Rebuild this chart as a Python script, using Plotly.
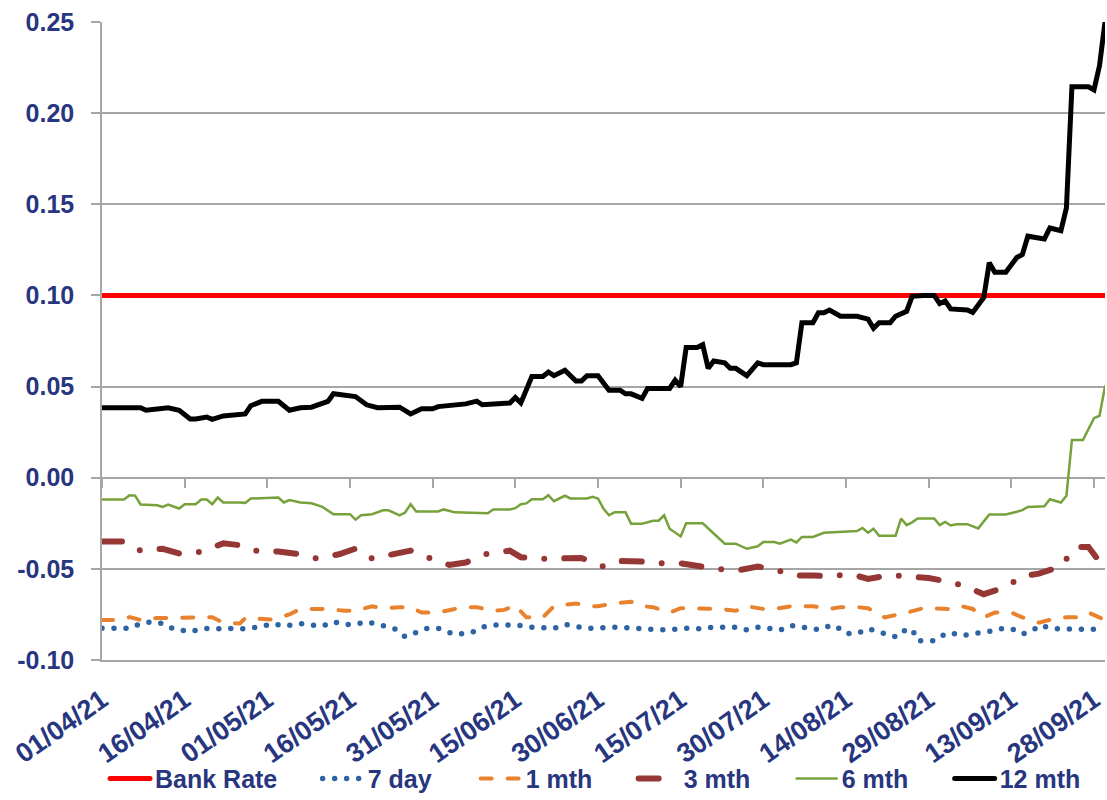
import plotly.graph_objects as go

# ---------------- data ----------------
bank_dates = ["2021-04-01", "2021-09-30"]
bank_values = [0.10, 0.10]

d7_dates = ["2021-04-01", "2021-04-06", "2021-04-08", "2021-04-10", "2021-04-12", "2021-04-14",
            "2021-04-17", "2021-04-19", "2021-04-21", "2021-04-23", "2021-04-25", "2021-04-27",
            "2021-04-30", "2021-05-02", "2021-05-04", "2021-05-07", "2021-05-11", "2021-05-13",
            "2021-05-15", "2021-05-17", "2021-05-19", "2021-05-22", "2021-05-24", "2021-05-26",
            "2021-05-28", "2021-05-30", "2021-06-01", "2021-06-03", "2021-06-04", "2021-06-07",
            "2021-06-09", "2021-06-11", "2021-06-15", "2021-06-18", "2021-06-20", "2021-06-22",
            "2021-06-24", "2021-06-26", "2021-06-28", "2021-07-03", "2021-07-07", "2021-07-10",
            "2021-07-12", "2021-07-16", "2021-07-18", "2021-07-21", "2021-07-25", "2021-07-27",
            "2021-07-29", "2021-07-31", "2021-08-02", "2021-08-04", "2021-08-07", "2021-08-09",
            "2021-08-10", "2021-08-12", "2021-08-14", "2021-08-16", "2021-08-18", "2021-08-21",
            "2021-08-23", "2021-08-24", "2021-08-26", "2021-08-27", "2021-08-30", "2021-09-01",
            "2021-09-02", "2021-09-04", "2021-09-07", "2021-09-09", "2021-09-11", "2021-09-13",
            "2021-09-15", "2021-09-17", "2021-09-18", "2021-09-21", "2021-09-24", "2021-09-29",
            "2021-09-30"]
d7_values = [-0.0826, -0.0826, -0.0800, -0.0790, -0.0800, -0.0830,
             -0.0845, -0.0830, -0.0825, -0.0830, -0.0826, -0.0830,
             -0.0815, -0.0800, -0.0815, -0.0800, -0.0815, -0.0790,
             -0.0805, -0.0805, -0.0790, -0.0815, -0.0826, -0.0872,
             -0.0850, -0.0826, -0.0826, -0.0850, -0.0860, -0.0850,
             -0.0820, -0.0808, -0.0808, -0.0820, -0.0820, -0.0826,
             -0.0805, -0.0815, -0.0826, -0.0820, -0.0826, -0.0830,
             -0.0835, -0.0826, -0.0830, -0.0820, -0.0820, -0.0835,
             -0.0820, -0.0826, -0.0837, -0.0810, -0.0820, -0.0833,
             -0.0820, -0.0810, -0.0855, -0.0855, -0.0828, -0.0855,
             -0.0873, -0.0843, -0.0830, -0.0895, -0.0895, -0.0857,
             -0.0850, -0.0866, -0.0855, -0.0843, -0.0828, -0.0828,
             -0.0858, -0.0837, -0.0810, -0.0828, -0.0830, -0.0833,
             -0.0833]

m1_dates = ["2021-04-01", "2021-04-04", "2021-04-06", "2021-04-08", "2021-04-11", "2021-04-13",
            "2021-04-16", "2021-04-18", "2021-04-21", "2021-04-23", "2021-04-26", "2021-04-27",
            "2021-04-30", "2021-05-02", "2021-05-05", "2021-05-07", "2021-05-09", "2021-05-12",
            "2021-05-15", "2021-05-17", "2021-05-20", "2021-05-22", "2021-05-25", "2021-05-27",
            "2021-05-29", "2021-06-01", "2021-06-04", "2021-06-06", "2021-06-08", "2021-06-11",
            "2021-06-13", "2021-06-15", "2021-06-17", "2021-06-20", "2021-06-22", "2021-06-24",
            "2021-06-26", "2021-06-29", "2021-06-30", "2021-07-03", "2021-07-06", "2021-07-08",
            "2021-07-10", "2021-07-13", "2021-07-15", "2021-07-17", "2021-07-20", "2021-07-22",
            "2021-07-25", "2021-07-27", "2021-07-30", "2021-08-01", "2021-08-04", "2021-08-05",
            "2021-08-08", "2021-08-11", "2021-08-13", "2021-08-16", "2021-08-18", "2021-08-21",
            "2021-08-23", "2021-08-25", "2021-08-28", "2021-08-30", "2021-09-02", "2021-09-04",
            "2021-09-06", "2021-09-08", "2021-09-10", "2021-09-13", "2021-09-15", "2021-09-18",
            "2021-09-20", "2021-09-23", "2021-09-25", "2021-09-27", "2021-09-30"]
m1_values = [-0.0780, -0.0780, -0.0765, -0.0780, -0.0770, -0.0770,
             -0.0765, -0.0765, -0.0765, -0.0795, -0.0800, -0.0770,
             -0.0778, -0.0778, -0.0750, -0.0720, -0.0720, -0.0720,
             -0.0730, -0.0730, -0.0705, -0.0716, -0.0710, -0.0710,
             -0.0740, -0.0740, -0.0720, -0.0710, -0.0710, -0.0730,
             -0.0725, -0.0700, -0.0766, -0.0766, -0.0705, -0.0700,
             -0.0690, -0.0705, -0.0705, -0.0690, -0.0680, -0.0705,
             -0.0710, -0.0740, -0.0716, -0.0716, -0.0720, -0.0720,
             -0.0730, -0.0705, -0.0720, -0.0720, -0.0705, -0.0705,
             -0.0705, -0.0720, -0.0710, -0.0710, -0.0716, -0.0766,
             -0.0755, -0.0740, -0.0716, -0.0716, -0.0720, -0.0705,
             -0.0720, -0.0766, -0.0740, -0.0740, -0.0766, -0.0795,
             -0.0780, -0.0766, -0.0766, -0.0740, -0.0780]

m3_dates = ["2021-04-01", "2021-04-05", "2021-04-08", "2021-04-12", "2021-04-15", "2021-04-19",
            "2021-04-23", "2021-04-26", "2021-04-29", "2021-05-03", "2021-05-07", "2021-05-10",
            "2021-05-14", "2021-05-17", "2021-05-20", "2021-05-24", "2021-05-27", "2021-05-30",
            "2021-06-03", "2021-06-06", "2021-06-10", "2021-06-14", "2021-06-16", "2021-06-20",
            "2021-06-24", "2021-06-27", "2021-07-01", "2021-07-04", "2021-07-08", "2021-07-12",
            "2021-07-15", "2021-07-18", "2021-07-22", "2021-07-26", "2021-07-29", "2021-08-02",
            "2021-08-05", "2021-08-08", "2021-08-11", "2021-08-15", "2021-08-18", "2021-08-22",
            "2021-08-26", "2021-08-29", "2021-09-02", "2021-09-05", "2021-09-08", "2021-09-12",
            "2021-09-15", "2021-09-18", "2021-09-22", "2021-09-24", "2021-09-25", "2021-09-27",
            "2021-09-29", "2021-09-30"]
m3_values = [-0.0350, -0.0350, -0.0400, -0.0390, -0.0416, -0.0406,
             -0.0360, -0.0370, -0.0400, -0.0405, -0.0420, -0.0443,
             -0.0420, -0.0389, -0.0443, -0.0420, -0.0400, -0.0436,
             -0.0478, -0.0465, -0.0416, -0.0400, -0.0436, -0.0445,
             -0.0440, -0.0440, -0.0487, -0.0457, -0.0460, -0.0471,
             -0.0470, -0.0485, -0.0502, -0.0505, -0.0487, -0.0513,
             -0.0537, -0.0537, -0.0540, -0.0530, -0.0555, -0.0535,
             -0.0540, -0.0550, -0.0573, -0.0600, -0.0639, -0.0600,
             -0.0540, -0.0526, -0.0487, -0.0406, -0.0380, -0.0380,
             -0.0460, -0.0470]

m6_dates = ["2021-04-01", "2021-04-05", "2021-04-06", "2021-04-07", "2021-04-08", "2021-04-11",
            "2021-04-12", "2021-04-13", "2021-04-15", "2021-04-16", "2021-04-18", "2021-04-19",
            "2021-04-20", "2021-04-21", "2021-04-22", "2021-04-23", "2021-04-26", "2021-04-27",
            "2021-04-28", "2021-05-01", "2021-05-03", "2021-05-04", "2021-05-05", "2021-05-07",
            "2021-05-09", "2021-05-11", "2021-05-13", "2021-05-16", "2021-05-17", "2021-05-18",
            "2021-05-20", "2021-05-22", "2021-05-23", "2021-05-25", "2021-05-26", "2021-05-27",
            "2021-05-28", "2021-06-01", "2021-06-02", "2021-06-04", "2021-06-09", "2021-06-10",
            "2021-06-11", "2021-06-14", "2021-06-15", "2021-06-16", "2021-06-17", "2021-06-18",
            "2021-06-20", "2021-06-21", "2021-06-22", "2021-06-24", "2021-06-25", "2021-06-28",
            "2021-06-29", "2021-06-30", "2021-07-01", "2021-07-02", "2021-07-03", "2021-07-05",
            "2021-07-06", "2021-07-08", "2021-07-10", "2021-07-11", "2021-07-12", "2021-07-13",
            "2021-07-15", "2021-07-16", "2021-07-19", "2021-07-21", "2021-07-23", "2021-07-25",
            "2021-07-27", "2021-07-29", "2021-07-30", "2021-08-01", "2021-08-02", "2021-08-04",
            "2021-08-05", "2021-08-06", "2021-08-08", "2021-08-10", "2021-08-11", "2021-08-16",
            "2021-08-17", "2021-08-18", "2021-08-19", "2021-08-20", "2021-08-23", "2021-08-24",
            "2021-08-25", "2021-08-26", "2021-08-27", "2021-08-30", "2021-08-31", "2021-09-01",
            "2021-09-02", "2021-09-03", "2021-09-05", "2021-09-07", "2021-09-09", "2021-09-12",
            "2021-09-14", "2021-09-15", "2021-09-16", "2021-09-19", "2021-09-20", "2021-09-22",
            "2021-09-23", "2021-09-24", "2021-09-26", "2021-09-28", "2021-09-29", "2021-09-30"]
m6_values = [-0.0120, -0.0120, -0.0096, -0.0098, -0.0147, -0.0151,
             -0.0160, -0.0147, -0.0169, -0.0145, -0.0145, -0.0120,
             -0.0120, -0.0145, -0.0109, -0.0136, -0.0136, -0.0138,
             -0.0114, -0.0109, -0.0109, -0.0136, -0.0123, -0.0136,
             -0.0140, -0.0160, -0.0201, -0.0200, -0.0230, -0.0206,
             -0.0200, -0.0179, -0.0179, -0.0206, -0.0191, -0.0145,
             -0.0185, -0.0185, -0.0174, -0.0190, -0.0195, -0.0195,
             -0.0174, -0.0174, -0.0167, -0.0145, -0.0141, -0.0118,
             -0.0118, -0.0096, -0.0129, -0.0099, -0.0114, -0.0114,
             -0.0105, -0.0114, -0.0170, -0.0206, -0.0190, -0.0190,
             -0.0252, -0.0252, -0.0236, -0.0236, -0.0206, -0.0280,
             -0.0322, -0.0250, -0.0250, -0.0307, -0.0362, -0.0362,
             -0.0390, -0.0376, -0.0353, -0.0353, -0.0362, -0.0340,
             -0.0355, -0.0325, -0.0325, -0.0302, -0.0300, -0.0293,
             -0.0276, -0.0302, -0.0280, -0.0318, -0.0318, -0.0224,
             -0.0260, -0.0245, -0.0224, -0.0224, -0.0260, -0.0243,
             -0.0262, -0.0255, -0.0255, -0.0278, -0.0202, -0.0202,
             -0.0187, -0.0178, -0.0160, -0.0157, -0.0118, -0.0136,
             -0.0099, 0.0207, 0.0207, 0.0327, 0.0340, 0.0500]

m12_dates = ["2021-04-01", "2021-04-08", "2021-04-09", "2021-04-13", "2021-04-15", "2021-04-17",
             "2021-04-18", "2021-04-20", "2021-04-21", "2021-04-23", "2021-04-27", "2021-04-28",
             "2021-04-30", "2021-05-03", "2021-05-05", "2021-05-07", "2021-05-09", "2021-05-12",
             "2021-05-13", "2021-05-17", "2021-05-19", "2021-05-21", "2021-05-25", "2021-05-27",
             "2021-05-29", "2021-05-31", "2021-06-01", "2021-06-06", "2021-06-08", "2021-06-09",
             "2021-06-14", "2021-06-15", "2021-06-16", "2021-06-18", "2021-06-20", "2021-06-21",
             "2021-06-22", "2021-06-24", "2021-06-26", "2021-06-27", "2021-06-28", "2021-06-30",
             "2021-07-02", "2021-07-04", "2021-07-05", "2021-07-06", "2021-07-08", "2021-07-09",
             "2021-07-13", "2021-07-14", "2021-07-15", "2021-07-16", "2021-07-18", "2021-07-19",
             "2021-07-20", "2021-07-21", "2021-07-23", "2021-07-24", "2021-07-25", "2021-07-27",
             "2021-07-29", "2021-07-30", "2021-08-04", "2021-08-05", "2021-08-06", "2021-08-08",
             "2021-08-09", "2021-08-10", "2021-08-11", "2021-08-13", "2021-08-16", "2021-08-18",
             "2021-08-19", "2021-08-20", "2021-08-22", "2021-08-23", "2021-08-25", "2021-08-26",
             "2021-08-28", "2021-08-30", "2021-08-31", "2021-09-01", "2021-09-02", "2021-09-04",
             "2021-09-05", "2021-09-06", "2021-09-08", "2021-09-09", "2021-09-10", "2021-09-12",
             "2021-09-14", "2021-09-15", "2021-09-16", "2021-09-19", "2021-09-20", "2021-09-22",
             "2021-09-23", "2021-09-24", "2021-09-27", "2021-09-28", "2021-09-29", "2021-09-30"]
m12_values = [0.0384, 0.0384, 0.0370, 0.0384, 0.0370, 0.0322,
              0.0322, 0.0333, 0.0320, 0.0339, 0.0350, 0.0395,
              0.0419, 0.0419, 0.0370, 0.0384, 0.0387, 0.0419,
              0.0461, 0.0445, 0.0400, 0.0384, 0.0387, 0.0350,
              0.0378, 0.0378, 0.0390, 0.0405, 0.0420, 0.0400,
              0.0410, 0.0440, 0.0410, 0.0555, 0.0555, 0.0580,
              0.0560, 0.0590, 0.0530, 0.0530, 0.0560, 0.0560,
              0.0480, 0.0480, 0.0460, 0.0460, 0.0435, 0.0490,
              0.0490, 0.0535, 0.0500, 0.0714, 0.0714, 0.0730,
              0.0600, 0.0640, 0.0630, 0.0600, 0.0600, 0.0560,
              0.0630, 0.0620, 0.0620, 0.0630, 0.0850, 0.0850,
              0.0905, 0.0905, 0.0920, 0.0886, 0.0886, 0.0870,
              0.0820, 0.0850, 0.0850, 0.0886, 0.0913, 0.0995,
              0.1000, 0.1000, 0.0955, 0.0970, 0.0926, 0.0920,
              0.0920, 0.0907, 0.0988, 0.1180, 0.1127, 0.1127,
              0.1208, 0.1224, 0.1325, 0.1310, 0.1370, 0.1355,
              0.1480, 0.2145, 0.2145, 0.2128, 0.2260, 0.2500]

tick_dates = ["2021-04-01", "2021-04-16", "2021-05-01", "2021-05-16", "2021-05-31", "2021-06-15",
              "2021-06-30", "2021-07-15", "2021-07-30", "2021-08-14", "2021-08-29", "2021-09-13",
              "2021-09-28"]
tick_labels = ["01/04/21", "16/04/21", "01/05/21", "16/05/21", "31/05/21", "15/06/21",
               "30/06/21", "15/07/21", "30/07/21", "14/08/21", "29/08/21", "13/09/21",
               "28/09/21"]
y_ticks = [-0.10, -0.05, 0.00, 0.05, 0.10, 0.15, 0.20, 0.25]
y_labels = ["-0.10", "-0.05", "0.00", "0.05", "0.10", "0.15", "0.20", "0.25"]
x_range = ["2021-04-01", "2021-09-30"]

# ---------------- style ----------------
NAVY = "#27367E"
GRID = "#A6A6A6"
FONT = "Liberation Sans, Arial, sans-serif"

fig = go.Figure()
fig.add_trace(go.Scatter(x=bank_dates, y=bank_values, name="Bank Rate", mode="lines",
                         legend="legend",
                         line=dict(color="#FF0000", width=5)))
fig.add_trace(go.Scatter(x=d7_dates, y=d7_values, name="7 day", mode="lines",
                         legend="legend2",
                         line=dict(color="#2E64A4", width=5.5, dash="0px,12px")))
fig.add_trace(go.Scatter(x=m1_dates, y=m1_values, name="1 mth", mode="lines",
                         legend="legend2",
                         line=dict(color="#E8822E", width=4, dash="11px,16px")))
fig.add_trace(go.Scatter(x=m3_dates, y=m3_values, name="3 mth", mode="lines",
                         legend="legend2",
                         line=dict(color="#953735", width=6, dash="20px,20px,0px,20px")))
fig.add_trace(go.Scatter(x=m6_dates, y=m6_values, name="6 mth", mode="lines",
                         legend="legend2",
                         line=dict(color="#77A13A", width=2.5)))
fig.add_trace(go.Scatter(x=m12_dates, y=m12_values, name="12 mth", mode="lines",
                         legend="legend2",
                         line=dict(color="#000000", width=5)))
# helper trace so the tick-mark axis at y = 0 gets drawn
fig.add_trace(go.Scatter(x=bank_dates, y=bank_values, xaxis="x2", mode="lines",
                         line=dict(width=0, color="rgba(0,0,0,0)"), showlegend=False,
                         hoverinfo="skip"))

zero_pos = (0 - y_ticks[0]) / (y_ticks[-1] - y_ticks[0])
legend_font = dict(family=FONT, size=25, color=NAVY, weight="bold")

fig.update_layout(
    width=1107, height=800,
    margin=dict(l=102, r=2, t=22, b=140, autoexpand=False),
    paper_bgcolor="white", plot_bgcolor="white",
    font=dict(family=FONT, color=NAVY, size=24),
    showlegend=True,
    legend=dict(orientation="h", x=0.003, xanchor="left", y=-0.15, yanchor="top",
                font=legend_font, itemwidth=40, bgcolor="rgba(0,0,0,0)"),
    legend2=dict(orientation="h", x=0.215, xanchor="left", y=-0.15, yanchor="top",
                 font=legend_font, itemwidth=40, entrywidth=103, entrywidthmode="pixels",
                 bgcolor="rgba(0,0,0,0)"),
    xaxis=dict(type="date", range=x_range, tickvals=tick_dates, ticktext=tick_labels,
               tickangle=-35, showgrid=False, zeroline=False, ticks="",
               showline=True, linecolor=GRID, linewidth=1.5, automargin=False,
               tickfont=dict(family=FONT, size=27, color=NAVY, weight="bold"),
               ticklabelstandoff=12),
    xaxis2=dict(type="date", overlaying="x", matches="x", anchor="free", position=zero_pos,
                side="bottom", tickvals=tick_dates, showticklabels=False, ticks="outside",
                ticklen=9, tickwidth=1.5, tickcolor=GRID, showgrid=False, zeroline=False,
                showline=False, automargin=False),
    yaxis=dict(range=[y_ticks[0], y_ticks[-1]], tickvals=y_ticks, ticktext=y_labels,
               showgrid=True, gridcolor=GRID, gridwidth=1.5, zeroline=False,
               showline=True, linecolor=GRID, linewidth=1.5, automargin=False,
               ticks="outside", ticklen=9, tickwidth=1.5, tickcolor=GRID,
               tickfont=dict(family=FONT, size=25, color=NAVY, weight="bold"),
               ticklabelstandoff=12),
)

post = ("var s=document.createElement('style');"
        "s.textContent='html,body{margin:0;padding:0;} .scatterlayer path.js-line, .legend path.js-line, .legend2 path.js-line{stroke-linecap:round;}';"
        "document.head.appendChild(s);")
fig.write_html("out.html", post_script=post, config={"displayModeBar": False})
